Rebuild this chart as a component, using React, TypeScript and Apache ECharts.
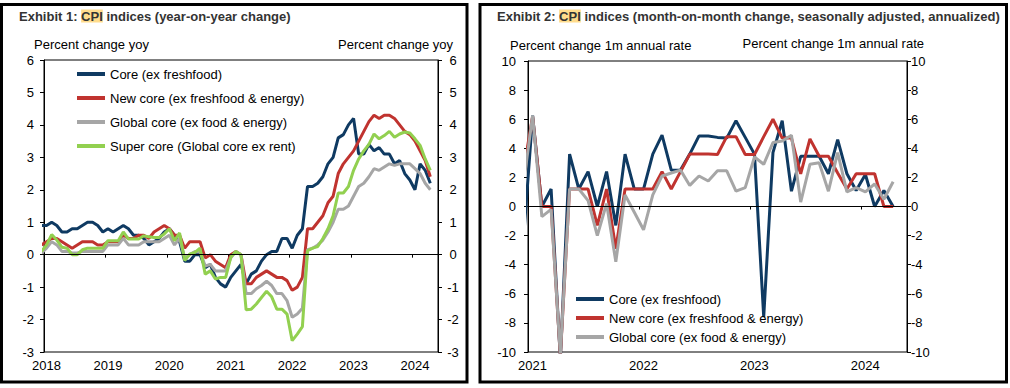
import React, { useEffect, useRef } from "react";
import * as echarts from "echarts";

// ---- Exhibit 1: year-on-year change, monthly, Dec 2017 .. Apr 2024 ----
const yoyStartYear = 2018;
const yoyAxisMonths = 77; // Jan 2018 .. end of May 2024
const yoyCore = [0.9,
  0.9, 1.0, 0.9, 0.7, 0.7, 0.8, 0.8, 0.9, 1.0, 1.0, 0.9, 0.7,
  0.8, 0.7, 0.8, 0.9, 0.8, 0.6, 0.6, 0.5, 0.3, 0.4, 0.5, 0.7,
  0.8, 0.6, 0.4, -0.2, -0.2, 0.0, 0.0, -0.4, -0.3, -0.7, -0.9, -1.0,
  -0.7, -0.5, -0.3, -0.9, -0.6, -0.5, -0.2, 0.0, 0.1, 0.1, 0.5, 0.5,
  0.2, 0.6, 0.8, 2.1, 2.1, 2.2, 2.4, 2.8, 3.0, 3.6, 3.7, 4.0,
  4.2, 3.1, 3.1, 3.4, 3.2, 3.3, 3.1, 3.1, 2.8, 2.9, 2.5, 2.3,
  2.0, 2.8, 2.6, 2.2];
const yoyNewCore = [0.3,
  0.4, 0.5, 0.5, 0.4, 0.3, 0.2, 0.3, 0.4, 0.4, 0.4, 0.3, 0.3,
  0.4, 0.4, 0.4, 0.6, 0.5, 0.5, 0.6, 0.6, 0.5, 0.7, 0.8, 0.9,
  0.8, 0.6, 0.6, 0.2, 0.4, 0.4, 0.4, -0.1, 0.0, -0.2, -0.3, -0.4,
  0.0, 0.1, 0.0, -0.9, -0.9, -0.7, -0.6, -0.5, -0.6, -0.7, -0.7, -0.8,
  -1.1, -1.0, -0.7, 0.8, 0.8, 1.0, 1.2, 1.6, 1.8, 2.5, 2.8, 3.0,
  3.2, 3.5, 3.8, 4.1, 4.3, 4.2, 4.3, 4.3, 4.2, 4.0, 3.8, 3.7,
  3.5, 3.2, 2.9, 2.4];
const yoyGlobalCore = [0.05,
  0.2, 0.4, 0.3, 0.1, 0.1, 0.05, 0.05, 0.1, 0.1, 0.1, 0.1, 0.1,
  0.3, 0.3, 0.3, 0.5, 0.3, 0.3, 0.3, 0.4, 0.4, 0.4, 0.4, 0.5,
  0.6, 0.3, 0.5, -0.1, 0.0, 0.1, 0.1, -0.35, -0.3, -0.5, -0.5, -0.5,
  -0.1, 0.1, 0.0, -1.2, -1.2, -1.05, -0.95, -0.82, -0.95, -1.2, -1.2, -1.42,
  -1.93, -1.83, -1.65, 0.15, 0.2, 0.3, 0.45, 0.7, 1.0, 1.4, 1.4, 1.5,
  1.8, 2.1, 2.2, 2.4, 2.65, 2.6, 2.7, 2.8, 2.75, 2.8, 2.8, 2.8,
  2.65, 2.5, 2.2, 2.0];
const yoySuperCore = [0.1,
  0.3, 0.62, 0.45, 0.23, 0.2, 0.0, 0.0, 0.15, 0.2, 0.2, 0.2, 0.2,
  0.43, 0.43, 0.43, 0.7, 0.48, 0.48, 0.48, 0.58, 0.55, 0.53, 0.53, 0.64,
  0.8, 0.43, 0.67, -0.18, 0.02, 0.07, 0.2, -0.6, -0.5, -0.75, -0.7, -0.7,
  -0.08, 0.1, 0.0, -1.7, -1.68, -1.52, -1.32, -1.13, -1.3, -1.68, -1.68, -1.83,
  -2.65, -2.45, -2.22, 0.12, 0.2, 0.25, 0.5, 0.8, 1.2, 1.9, 1.9, 2.1,
  2.6, 2.95, 3.2, 3.4, 3.72, 3.57, 3.67, 3.8, 3.62, 3.72, 3.78, 3.75,
  3.57, 3.37, 2.95, 2.6];

// ---- Exhibit 2: month-on-month SA annualized, Dec 2020 .. Apr 2024 ----
const momStartYear = 2021;
const momAxisMonths = 41; // Jan 2021 .. end of May 2024
const momCore = [-2.4,
  6.25, 0.0, 1.2, -10.5, 3.6, 1.2, 2.4, 0.0, 2.4, -1.3, 3.6, 1.2,
  1.2, 3.6, 4.9, 2.5, 2.5, 3.6, 4.85, 4.85, 4.75, 4.7, 5.9, 4.75,
  3.6, -7.6, 3.7, 5.9, 1.05, 3.45, 3.45, 3.45, 2.25, 4.6, 2.25, 1.1,
  2.2, 0.0, 1.1, 0.0];
const momNewCore = [2.4,
  6.2, 0.0, 0.0, -10.3, 1.2, 1.2, 1.2, -1.3, 1.2, -2.9, 1.2, 1.2,
  1.2, 1.2, 2.4, 1.2, 2.4, 3.6, 3.6, 3.6, 3.57, 4.8, 4.8, 3.57,
  3.57, 4.8, 6.0, 4.7, 4.7, 2.25, 4.65, 3.45, 3.45, 2.3, 1.2, 2.25,
  2.25, 2.25, 0.0, 0.0];
const momGlobalCore = [1.5,
  6.25, -0.7, -0.2, -10.2, 1.2, 1.2, 0.4, -2.0, 0.2, -3.8, 0.8, -0.4,
  -1.6, 0.8, 2.1, 2.3, 2.5, 1.45, 2.1, 1.75, 2.45, 2.45, 1.05, 1.3,
  3.4, 2.9, 4.4, 4.5, 4.9, 0.3, 2.9, 3.0, 1.05, 3.7, 1.0, 1.3,
  1.0, 1.55, 0.5, 1.7];

const seriesNames = [
  "Core (ex freshfood)",
  "New core (ex freshfood & energy)",
  "Global core (ex food & energy)",
  "Super core (Global core ex rent)",
];
const colors = ["#0f3a62", "#c0332f", "#a6a6a6", "#92d050"];

const FONT = "'Liberation Sans', Arial, sans-serif";

// points sit mid-month; first value is the month before the axis start
const toPoints = (vals: number[]) => vals.map((v, k) => [k - 0.5, v]);

function xAxisFor(gridIndex: number, startYear: number, months: number, pad: number) {
  return {
    type: "value",
    gridIndex,
    min: 0,
    max: months,
    interval: 12,
    axisLine: { show: true, lineStyle: { color: "#000", width: 1 } },
    axisTick: { show: true, length: 3, lineStyle: { color: "#000" } },
    splitLine: { show: false },
    axisLabel: {
      show: true,
      margin: 7,
      color: "#000",
      fontSize: 13,
      fontFamily: FONT,
      padding: [0, 0, 0, pad],
      showMaxLabel: false,
      formatter: (v: number) => (v % 12 === 0 && v < months ? String(startYear + v / 12) : ""),
    },
  };
}

function yAxisFor(gridIndex: number, min: number, max: number, interval: number, position: string, margin: number, align: string) {
  return {
    type: "value",
    gridIndex,
    position,
    min,
    max,
    interval,
    axisLine: { show: true, lineStyle: { color: "#000", width: 1 } },
    axisTick: { show: true, length: 4, lineStyle: { color: "#000" } },
    splitLine: { show: false },
    axisLabel: { color: "#000", fontSize: 13, fontFamily: FONT, margin, align },
  };
}

const zeroLine = {
  silent: true,
  symbol: ["none", "none"],
  label: { show: false },
  lineStyle: { color: "#000", width: 1, type: "solid" },
  data: [{ yAxis: 0 }],
};

function lineSeries(name: string, vals: number[], color: string, axisIdx: number, withZero: boolean) {
  const s: any = {
    type: "line",
    name,
    xAxisIndex: axisIdx,
    yAxisIndex: axisIdx * 2,
    data: toPoints(vals),
    showSymbol: false,
    symbol: "none",
    lineStyle: { color, width: 3 },
    itemStyle: { color },
    clip: true,
  };
  if (withZero) s.markLine = zeroLine;
  return s;
}

const titleText = (x: number, y: number, prefix: string, rest: string) => ({
  type: "text",
  x,
  y,
  style: {
    text: `{a|${prefix}}{h|CPI}{a|${rest}}`,
    font: `bold 13px ${FONT}`,
    fill: "#333",
    textVerticalAlign: "middle",
    rich: {
      a: { fontSize: 13, fontWeight: "bold", fontFamily: FONT, fill: "#333", color: "#333" },
      h: { fontSize: 13, fontWeight: "bold", fontFamily: FONT, fill: "#333", color: "#333", backgroundColor: "#ffdc8c", lineHeight: 14 },
    },
  },
});

const plainText = (x: number, y: number, text: string, align: string) => ({
  type: "text",
  x,
  y,
  style: { text, font: `13px ${FONT}`, fill: "#000", textAlign: align, textVerticalAlign: "middle" },
});

const legendBase = {
  orient: "vertical",
  padding: 0,
  itemWidth: 28,
  itemHeight: 4,
  icon: "rect",
  textStyle: { fontSize: 13, fontFamily: FONT, color: "#000", lineHeight: 16 },
  selectedMode: false,
};

const option: any = {
  animation: false,
  backgroundColor: "#fff",
  grid: [
    { left: 44, top: 60, width: 394, height: 292, show: true, borderColor: "#000", borderWidth: 1, backgroundColor: "transparent" },
    { left: 528, top: 61, width: 379, height: 291, show: true, borderColor: "#000", borderWidth: 1, backgroundColor: "transparent" },
  ],
  xAxis: [
    xAxisFor(0, yoyStartYear, yoyAxisMonths, 5),
    xAxisFor(1, momStartYear, momAxisMonths, 9),
  ],
  yAxis: [
    yAxisFor(0, -3, 6, 1, "left", 10, "right"),
    yAxisFor(0, -3, 6, 1, "right", 15, "center"),
    yAxisFor(1, -10, 10, 2, "left", 12, "right"),
    yAxisFor(1, -10, 10, 2, "right", 4, "left"),
  ],
  legend: [
    { ...legendBase, data: seriesNames, left: 77, top: 66, itemGap: 8 },
    { ...legendBase, data: seriesNames.slice(0, 3), left: 576, top: 291, itemGap: 3 },
  ],
  series: [
    lineSeries(seriesNames[0], yoyCore, colors[0], 0, true),
    lineSeries(seriesNames[1], yoyNewCore, colors[1], 0, false),
    lineSeries(seriesNames[2], yoyGlobalCore, colors[2], 0, false),
    lineSeries(seriesNames[3], yoySuperCore, colors[3], 0, false),
    lineSeries(seriesNames[0], momCore, colors[0], 1, true),
    lineSeries(seriesNames[1], momNewCore, colors[1], 1, false),
    lineSeries(seriesNames[2], momGlobalCore, colors[2], 1, false),
  ],
  graphic: [
    { type: "rect", shape: { x: 1.5, y: 4.5, width: 465.5, height: 377.5 }, style: { fill: "none", stroke: "#000", lineWidth: 3 } },
    { type: "rect", shape: { x: 480, y: 4.5, width: 526.5, height: 377.5 }, style: { fill: "none", stroke: "#000", lineWidth: 3 } },
    titleText(19, 16, "Exhibit 1: ", " indices (year-on-year change)"),
    titleText(497, 16, "Exhibit 2: ", " indices (month-on-month change, seasonally adjusted, annualized)"),
    plainText(34, 44, "Percent change yoy", "left"),
    plainText(453, 44, "Percent change yoy", "right"),
    plainText(510, 45.5, "Percent change 1m annual rate", "left"),
    plainText(924, 43, "Percent change 1m annual rate", "right"),
  ],
};

export default function App() {
  const ref = useRef<HTMLDivElement>(null);
  useEffect(() => {
    const chart = echarts.init(ref.current as HTMLDivElement, null, { renderer: "svg" });
    chart.setOption(option);
    return () => chart.dispose();
  }, []);
  return (
    <div
      ref={ref}
      style={{ position: "fixed", left: 0, top: 0, width: 1010, height: 388, background: "#fff" }}
    />
  );
}
